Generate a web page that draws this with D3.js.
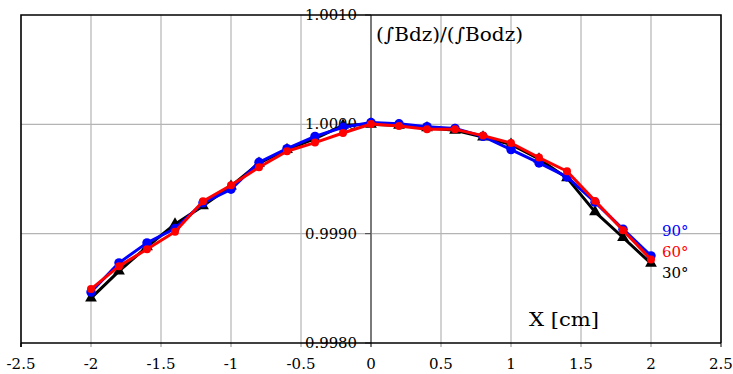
<!DOCTYPE html>
<html><head><meta charset="utf-8">
<script src="https://cdn.jsdelivr.net/npm/d3@7"></script>
<style>body{margin:0;background:#fff}svg{display:block}</style>
</head><body><svg id="c" width="733" height="374"></svg>
<script>
const xs = [-2,-1.8,-1.6,-1.4,-1.2,-1,-0.8,-0.6,-0.4,-0.2,0,0.2,0.4,0.6,0.8,1,1.2,1.4,1.6,1.8,2];
const s90 = [0.998466,0.998733,0.998916,0.999047,0.999282,0.999406,0.999653,0.999778,0.99989,0.999973,1.000016,1.000005,0.999979,0.999963,0.99989,0.999769,0.999647,0.999519,0.999288,0.999041,0.998797];
const s60 = [0.998493,0.998703,0.998858,0.999017,0.999297,0.999443,0.999607,0.999754,0.999833,0.999921,1.000003,0.999985,0.999954,0.999954,0.999897,0.999829,0.999696,0.999571,0.9993,0.999032,0.998764];
const s30 = [0.998411,0.998658,0.99888,0.999087,0.999254,0.999434,0.999644,0.999769,0.999869,0.999991,1.0,0.99999,0.999968,0.999945,0.999884,0.999817,0.999683,0.99951,0.999199,0.998965,0.998728];
const xTicks = [-2.5,-2,-1.5,-1,-0.5,0,0.5,1,1.5,2,2.5];
const yTicks = [0.998,0.999,1.000,1.001];
const seriesNames = ["30°","90°","60°"];

const svg = d3.select("#c");
const x = d3.scaleLinear().domain([-2.5,2.5]).range([21,721]);
const y = d3.scaleLinear().domain([0.998,1.001]).range([343,15]);
const FF = "'DejaVu Serif', serif";

// grid
svg.append("g").selectAll("line").data(xTicks.filter(d=>Math.abs(d)!==2.5 && d!==0)).join("line")
  .attr("x1",d=>x(d)).attr("x2",d=>x(d)).attr("y1",y(1.001)).attr("y2",y(0.998))
  .attr("stroke","#b4b4b4").attr("stroke-width",1.2);
svg.append("g").selectAll("line").data([0.999,1.000]).join("line")
  .attr("x1",x(-2.5)).attr("x2",x(2.5)).attr("y1",d=>y(d)).attr("y2",d=>y(d))
  .attr("stroke","#b4b4b4").attr("stroke-width",1.2);

// x axis ticks (below)
svg.append("g").selectAll("line").data(xTicks).join("line")
  .attr("x1",d=>x(d)).attr("x2",d=>x(d)).attr("y1",y(0.998)).attr("y2",y(0.998)+4)
  .attr("stroke",d=>Math.abs(d)===2.5?"#000":"#888").attr("stroke-width",1);

// y axis
svg.append("line").attr("x1",x(0)).attr("x2",x(0)).attr("y1",y(1.001)).attr("y2",y(0.998)+4)
  .attr("stroke","#7a7a7a").attr("stroke-width",2);
svg.append("g").selectAll("line").data(yTicks).join("line")
  .attr("x1",x(0)-6).attr("x2",x(0)).attr("y1",d=>y(d)).attr("y2",d=>y(d))
  .attr("stroke","#444").attr("stroke-width",1);

// border
svg.append("path").attr("d",`M${x(-2.5)},${y(0.998)+4}V${y(1.001)}H${x(2.5)}V${y(0.998)}`)
  .attr("fill","none").attr("stroke","#000").attr("stroke-width",1.6);
svg.append("line").attr("x1",x(-2.5)).attr("x2",x(2.5)).attr("y1",y(0.998)).attr("y2",y(0.998))
  .attr("stroke","#000").attr("stroke-width",1.6);

// y labels
svg.append("g").selectAll("text").data(yTicks).join("text")
  .attr("x",x(0)-14).attr("y",d=>y(d)+5).attr("text-anchor","end").style("font-family",FF)
  .attr("font-size",14).attr("textLength",52).attr("lengthAdjust","spacingAndGlyphs")
  .text(d=>d3.format(".4f")(d));
// x labels
svg.append("g").selectAll("text").data(xTicks).join("text")
  .attr("x",d=>x(d)).attr("y",369).attr("text-anchor","middle").style("font-family",FF)
  .attr("font-size",15).text(d=>String(d));

// series
const data = {"30°":s30,"90°":s90,"60°":s60};
const colors = {"30°":"#000000","90°":"#0000ff","60°":"#ff0000"};
const line = d3.line().x((d,i)=>x(xs[i])).y(d=>y(d));
seriesNames.forEach(n=>{
  const g = svg.append("g");
  g.append("path").datum(data[n]).attr("d",line).attr("fill","none")
    .attr("stroke",colors[n]).attr("stroke-width",3).attr("stroke-linejoin","round");
  const sym = n==="30°"?d3.symbolTriangle:d3.symbolCircle;
  const size = n==="30°"?60:(n==="90°"?70:50);
  g.selectAll("path.m").data(data[n]).join("path").attr("class","m")
    .attr("transform",(d,i)=>`translate(${x(xs[i])},${y(d)})`)
    .attr("d",d3.symbol().type(sym).size(size)).attr("fill",colors[n]);
});

// legend labels
[["90°",236],["60°",257],["30°",278]].forEach(([n,yy])=>{
  svg.append("text").attr("x",662).attr("y",yy).attr("font-size",15).style("font-family",FF)
    .attr("fill",colors[n]).text(n);
});

// titles
svg.append("text").attr("x",376).attr("y",41).attr("font-size",19).style("font-family",FF)
  .attr("textLength",147).attr("lengthAdjust","spacingAndGlyphs").text("(∫Bdz)/(∫Bodz)");
svg.append("text").attr("x",529).attr("y",326).attr("font-size",18).style("font-family",FF)
  .attr("textLength",70).attr("lengthAdjust","spacingAndGlyphs").text("X [cm]");
</script></body></html>
